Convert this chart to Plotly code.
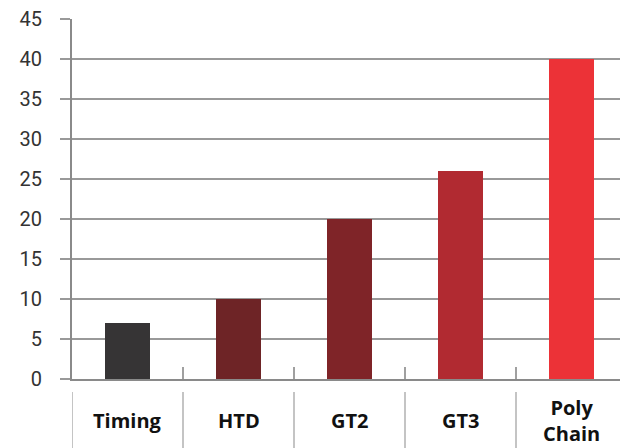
import plotly.graph_objects as go

categories = ["Timing", "HTD", "GT2", "GT3", "Poly Chain"]
label_text = ["Timing", "HTD", "GT2", "GT3", "Poly<br>Chain"]
values = [7, 10, 20, 26, 40]
colors = ["#363435", "#6e2426", "#7f2428", "#b12a31", "#ec3237"]
y_ticks = [0, 5, 10, 15, 20, 25, 30, 35, 40, 45]

W, H = 620, 448
ML, MR, MT, MB = 72, 0, 19, 69
plot_h = H - MT - MB
band_px = 111
n = len(categories)
xmax = -0.5 + (W - ML - MR) / band_px

fig = go.Figure()
fig.add_trace(go.Bar(
    x=categories, y=values,
    marker=dict(color=colors, line=dict(width=0)),
    width=0.405,
    hoverinfo="x+y",
))

# separators below the axis at category boundaries
for i in range(n):
    fig.add_shape(type="line", xref="x", yref="paper",
                  x0=i - 0.5, x1=i - 0.5,
                  y0=-13 / plot_h, y1=-(MB + 2) / plot_h,
                  line=dict(color="#b0b0b0", width=1.5), layer="above")

# category labels centred vertically
for i, t in enumerate(label_text):
    fig.add_annotation(x=i, xref="x", y=-41 / plot_h, yref="paper",
                       text="<b>" + t + "</b>", showarrow=False,
                       xanchor="center", yanchor="middle",
                       font=dict(family="Open Sans", size=20, color="#111111"))

fig.update_layout(
    width=W, height=H,
    margin=dict(l=ML, r=MR, t=MT, b=MB, pad=0, autoexpand=False),
    paper_bgcolor="white", plot_bgcolor="white",
    showlegend=False, bargap=0,
    xaxis=dict(
        type="category", automargin=False,
        range=[-0.5, xmax],
        showticklabels=False, showgrid=False, zeroline=False,
        showline=True, linecolor="#8a8a8a", linewidth=2,
        ticks="inside", tickson="boundaries", ticklen=12,
        tickcolor="#a0a0a0", tickwidth=1.5,
    ),
    yaxis=dict(
        automargin=False,
        range=[0, 45.02], tickmode="array", tickvals=y_ticks,
        showgrid=True, gridcolor="#999999", gridwidth=1.5,
        zeroline=False,
        showline=True, linecolor="#8a8a8a", linewidth=2,
        ticks="outside", ticklen=10, tickcolor="#999999", tickwidth=1.5,
        ticklabelstandoff=14,
        tickfont=dict(family="Roboto", size=20, color="#333333"),
    ),
)

fig.write_html("out.html",
               config={"displayModeBar": False},
               post_script="document.body.style.margin='0';document.body.style.overflow='hidden';")
